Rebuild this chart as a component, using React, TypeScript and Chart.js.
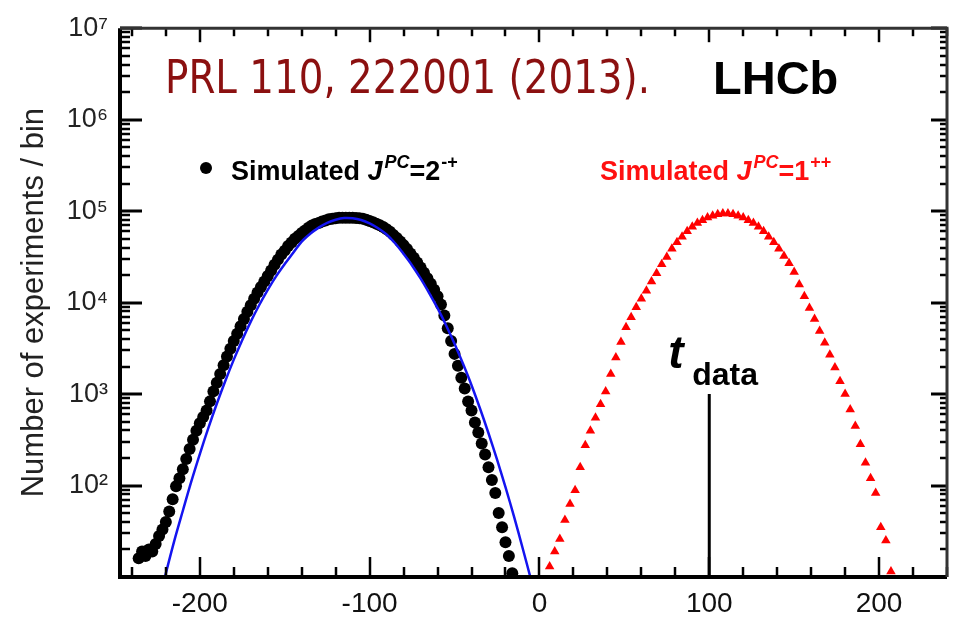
import { useEffect, useRef } from 'react';
import { Chart, registerables } from 'chart.js';

Chart.register(...registerables);

// ---- axis ranges & ticks ----
const X_MIN = -247;
const X_MAX = 240;
const Y_MIN = 10;
const Y_MAX = 1e7;
const xTickValues = [-200, -100, 0, 100, 200];
const yTickValues = [1e2, 1e3, 1e4, 1e5, 1e6, 1e7];
const yTickLabels = ['10²', '10³', '10⁴', '10⁵', '10⁶', '10⁷'];

// ---- Simulated J^PC = 2^-+ (black dots) ----
const blackX = [
  -236, -234, -232, -230, -228, -226, -224, -222, -220, -218,
  -216, -214, -212, -210, -208, -206, -204, -202, -200, -198,
  -196, -194, -192, -190, -188, -186, -184, -182, -180, -178,
  -176, -174, -172, -170, -168, -166, -164, -162, -160, -158,
  -156, -154, -152, -150, -148, -146, -144, -142, -140, -138,
  -136, -134, -132, -130, -128, -126, -124, -122, -120, -118,
  -116, -114, -112, -110, -108, -106, -104, -102, -100, -98,
  -96, -94, -92, -90, -88, -86, -84, -82, -80, -78,
  -76, -74, -72, -70, -68, -66, -64, -62, -60, -58,
  -56, -54, -52, -50, -48, -46, -44, -42, -40, -38,
  -36, -34, -32, -30, -28, -26, -24, -22, -20, -18,
  -16,
];
const blackY = [
  16, 19, 17, 20, 19, 23, 28, 33, 40, 52,
  71, 98, 120, 151, 195, 251, 316, 398, 479, 562,
  661, 832, 1070, 1330, 1660, 2070, 2570, 3130, 3800, 4570,
  5500, 6610, 7940, 9330, 11000, 12900, 14800, 17000, 19500, 22400,
  26000, 29500, 33500, 37000, 41500, 45500, 50000, 53500, 57500, 61500,
  66000, 69500, 72500, 74000, 77000, 79000, 81500, 82500, 83500, 84500,
  84500, 84500, 84500, 84500, 84000, 83500, 82500, 80500, 78000, 75500,
  73000, 70000, 67000, 63500, 59500, 55000, 51000, 46500, 42500, 38500,
  34500, 31000, 27500, 24200, 21200, 18500, 16100, 13800, 11700, 9550,
  7240, 5250, 3800, 2750, 2040, 1510, 1150, 830, 660, 490,
  380, 288, 219, 158, 115, 83, 50, 35, 24, 17,
  11,
];

// ---- fit to the 2^-+ distribution (blue curve) ----
const blueX = [
  -225, -220, -215, -210, -205, -200, -195, -190, -185, -180,
  -175, -170, -165, -160, -155, -150, -145, -140, -135, -130,
  -125, -120, -115, -110, -105, -100, -95, -90, -85, -80,
  -75, -70, -65, -60, -55, -50, -45, -40, -35, -30,
  -25, -20, -15, -10, -5, 0,
];
const blueY = [
  4.8, 11, 25, 53, 111, 221, 424, 783, 1390, 2380,
  3910, 6190, 9420, 13800, 19500, 26400, 35000, 46500, 56500, 66000,
  74500, 80500, 84000, 83500, 80000, 73500, 65000, 55500, 44500, 34000,
  25500, 18400, 12800, 8690, 5660, 3550, 2140, 1250, 695, 373,
  193, 96, 46, 21, 9.4, 4.0,
];

// ---- Simulated J^PC = 1^++ (red triangles) ----
const redX = [
  6, 9, 12, 15, 18, 21, 24, 27, 30, 33,
  36, 39, 42, 45, 48, 51, 54, 57, 60, 63,
  66, 69, 72, 75, 78, 81, 84, 87, 90, 93,
  96, 99, 102, 105, 108, 111, 114, 117, 120, 123,
  126, 129, 132, 135, 138, 141, 144, 147, 150, 153,
  156, 159, 162, 165, 168, 171, 174, 177, 180, 183,
  186, 189, 192, 195, 198, 201, 204, 207,
];
const redY = [
  13, 19, 26, 42, 63, 89, 158, 275, 398, 550,
  776, 1070, 1660, 2510, 3720, 5370, 6920, 8910, 11000, 13500,
  17000, 20900, 26300, 31600, 38900, 45700, 52500, 60300, 67600, 74100,
  79400, 85100, 89100, 92700, 94200, 94200, 92700, 89100, 85100, 79400,
  74100, 67600, 60300, 52500, 45700, 38900, 32400, 26900, 21600, 15800,
  11700, 8710, 6610, 4900, 3630, 2690, 1950, 1380, 1000, 676,
  447, 282, 178, 120, 83, 35, 25, 11.5,
];

// ---- observed test statistic t_data ----
const tDataX = [100, 100];
const tDataY = [10, 1000];

const toPoints = (xs: number[], ys: number[]) => xs.map((x, i) => ({ x, y: ys[i] }));

const SANS = '"Liberation Sans", Arial, sans-serif';

function drawLegendEntry(ctx: CanvasRenderingContext2D, x: number, y: number, color: string, value: string, sup: string) {
  ctx.fillStyle = color;
  ctx.textAlign = 'left';
  ctx.textBaseline = 'alphabetic';
  let cx = x;
  ctx.font = `bold 27px ${SANS}`;
  ctx.fillText('Simulated ', cx, y);
  cx += ctx.measureText('Simulated ').width;
  ctx.font = `italic bold 27px ${SANS}`;
  ctx.fillText('J', cx, y);
  cx += ctx.measureText('J').width + 2;
  ctx.font = `italic bold 18px ${SANS}`;
  ctx.fillText('PC', cx, y - 12);
  cx += ctx.measureText('PC').width;
  ctx.font = `bold 27px ${SANS}`;
  ctx.fillText('=' + value, cx, y);
  cx += ctx.measureText('=' + value).width + 1;
  ctx.font = `bold 18px ${SANS}`;
  ctx.fillText(sup, cx, y - 12);
}

const decorPlugin = {
  id: 'decor',
  afterDraw(chart: any) {
    const { ctx, chartArea: a, scales } = chart;
    const xs = scales.x;
    const ys = scales.y;
    ctx.save();
    ctx.strokeStyle = '#000';
    ctx.lineCap = 'butt';

    // inner x ticks (bottom and top)
    ctx.lineWidth = 2.5;
    for (let v = -240; v <= 240; v += 20) {
      const px = Math.round(xs.getPixelForValue(v));
      const major = v % 100 === 0;
      ctx.beginPath();
      ctx.moveTo(px, a.bottom);
      ctx.lineTo(px, a.bottom - (major ? 20 : 10));
      ctx.stroke();
      ctx.beginPath();
      ctx.moveTo(px, a.top);
      ctx.lineTo(px, a.top + (major ? 14 : 8));
      ctx.stroke();
    }
    // inner y ticks (left and right)
    for (let d = 1; d <= 7; d++) {
      for (let k = 1; k <= 9; k++) {
        const v = k * Math.pow(10, d);
        if (v < Y_MIN || v > Y_MAX) continue;
        const py = Math.round(ys.getPixelForValue(v));
        const major = k === 1;
        ctx.lineWidth = major ? 3 : 2.5;
        ctx.beginPath();
        ctx.moveTo(a.left, py);
        ctx.lineTo(a.left + (major ? 22 : 10), py);
        ctx.stroke();
        ctx.beginPath();
        ctx.moveTo(a.right, py);
        ctx.lineTo(a.right - (major ? 16 : 7), py);
        ctx.stroke();
      }
    }
    // frame
    ctx.strokeStyle = '#000';
    ctx.lineWidth = 4;
    ctx.beginPath();
    ctx.moveTo(a.left, a.top);
    ctx.lineTo(a.left, a.bottom);
    ctx.lineTo(a.right, a.bottom);
    ctx.stroke();
    ctx.strokeStyle = '#333';
    ctx.lineWidth = 3;
    ctx.beginPath();
    ctx.moveTo(a.left, a.top);
    ctx.lineTo(a.right, a.top);
    ctx.lineTo(a.right, a.bottom);
    ctx.stroke();

    // citation and experiment label
    ctx.textAlign = 'left';
    ctx.textBaseline = 'alphabetic';
    ctx.fillStyle = '#8b1010';
    ctx.font = '46px "DejaVu Sans", sans-serif';
    ctx.fillText('PRL 110, 222001 (2013).', 165, 93, 485);
    ctx.fillStyle = '#000';
    ctx.font = `bold 47px ${SANS}`;
    ctx.fillText('LHCb', 713, 94);

    // legend
    ctx.fillStyle = '#000';
    ctx.beginPath();
    ctx.arc(206, 168, 6, 0, Math.PI * 2);
    ctx.fill();
    drawLegendEntry(ctx, 231, 180, '#000', '2', '-+');
    drawLegendEntry(ctx, 600, 180, '#ff1010', '1', '++');

    // t_data label
    const tx = xs.getPixelForValue(tDataX[1]);
    const ty = ys.getPixelForValue(tDataY[1]);
    ctx.fillStyle = '#000';
    ctx.font = `italic bold 46px ${SANS}`;
    ctx.fillText('t', tx - 41, ty - 26);
    ctx.font = `bold 32px ${SANS}`;
    ctx.fillText('data', tx - 17, ty - 9);
    ctx.restore();
  },
};

export default function App() {
  const canvasRef = useRef<HTMLCanvasElement | null>(null);

  useEffect(() => {
    const canvas = canvasRef.current;
    if (!canvas) return;
    const labelMap = new Map<number, string>();
    yTickValues.forEach((v, i) => labelMap.set(v, yTickLabels[i]));

    const chart = new Chart(canvas, {
      type: 'scatter',
      data: {
        datasets: [
          {
            label: 'Fit',
            data: toPoints(blueX, blueY),
            showLine: true,
            borderColor: '#1414f0',
            borderWidth: 2.5,
            pointRadius: 0,
            tension: 0.35,
            order: 0,
          },
          {
            label: 'Simulated JPC=2-+',
            data: toPoints(blackX, blackY),
            pointStyle: 'circle',
            pointRadius: 6,
            backgroundColor: '#000',
            borderWidth: 0,
            order: 3,
          },
          {
            label: 'Simulated JPC=1++',
            data: toPoints(redX, redY),
            pointStyle: 'triangle',
            pointRadius: 5.5,
            backgroundColor: '#ff0000',
            borderWidth: 0,
            order: 2,
          },
          {
            label: 't_data',
            data: toPoints(tDataX, tDataY),
            showLine: true,
            borderColor: '#000',
            borderWidth: 3,
            pointRadius: 0,
            order: 1,
          },
        ],
      },
      options: {
        responsive: false,
        animation: false,
        events: [],
        layout: { padding: { top: 24, right: 8, left: 0, bottom: 0 } },
        plugins: {
          legend: { display: false },
          tooltip: { enabled: false },
        },
        scales: {
          x: {
            type: 'linear',
            min: X_MIN,
            max: X_MAX,
            grid: { display: false, drawTicks: false },
            border: { display: false },
            afterBuildTicks: (scale: any) => {
              scale.ticks = xTickValues.map((v) => ({ value: v }));
            },
            afterFit: (scale: any) => {
              scale.height = 43;
            },
            ticks: {
              autoSkip: false,
              maxRotation: 0,
              padding: 10,
              color: '#111',
              font: { family: SANS, size: 28 },
              callback: (v: any) => String(v),
            },
          },
          y: {
            type: 'logarithmic',
            min: Y_MIN,
            max: Y_MAX,
            grid: { display: false, drawTicks: false },
            border: { display: false },
            afterBuildTicks: (scale: any) => {
              scale.ticks = yTickValues.map((v) => ({ value: v }));
            },
            afterFit: (scale: any) => {
              scale.width = 120;
            },
            title: {
              display: true,
              text: 'Number of experiments / bin',
              color: '#222',
              font: { family: SANS, size: 31 },
              padding: { top: 16, bottom: 0 },
            },
            ticks: {
              autoSkip: false,
              padding: 12,
              color: '#222',
              font: { family: SANS, size: 27 },
              callback: (v: any) => labelMap.get(Number(v)) ?? '',
            },
          },
        },
      },
      plugins: [decorPlugin],
    });
    return () => chart.destroy();
  }, []);

  return (
    <div style={{ position: 'absolute', left: 0, top: 0, width: 955, height: 620, background: '#fff' }}>
      <canvas ref={canvasRef} width={955} height={620} />
    </div>
  );
}
